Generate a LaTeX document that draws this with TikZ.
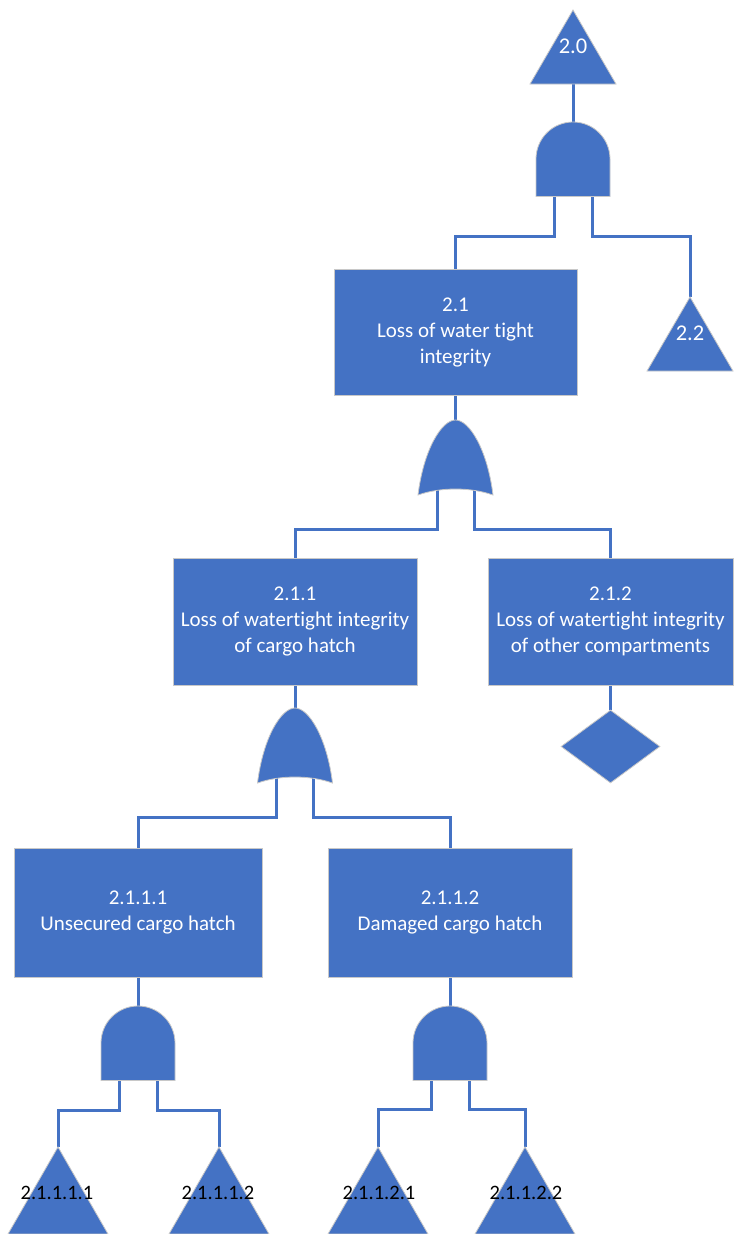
\documentclass[tikz,border=0pt]{standalone}
\usepackage{fontspec}
\setmainfont{Carlito}[Ligatures={NoCommon}]
\usetikzlibrary{shapes.geometric}
\definecolor{ftblue}{HTML}{4472C4}
\definecolor{ftedge}{HTML}{C8C8C8}
\pgfdeclarelayer{background}
\pgfsetlayers{background,main}

\begin{document}
\begin{tikzpicture}[x=1pt,y=-1pt,
  shapefill/.style={fill=ftblue, draw=ftedge, line width=0.8pt},
  box/.style={shapefill, rectangle, align=center, text=white, inner sep=0pt,
    font=\fontsize{21}{26}\selectfont},
  wire/.style={draw=ftblue, line width=3pt},
  tlabel/.style={text=white, inner sep=0pt, font=\fontsize{22.5}{26}\selectfont},
  blabel/.style={text=black, inner sep=0pt, font=\fontsize{20.5}{24}\selectfont},
  andgate/.pic={
    \path[shapefill] (-37,74.5) -- (-37,37) arc[start angle=180, end angle=0, radius=37pt]
      -- (37,74.5) -- cycle;
    \coordinate (-top) at (0,0);
    \coordinate (-l) at (-19,73);
    \coordinate (-r) at (19,73);
  },
  orgate/.pic={
    \path[shapefill] (-37.5,75) .. controls (-32,30) and (-14,0) .. (0,0)
      .. controls (14,0) and (32,30) .. (37.5,75)
      .. controls (15,67) and (-15,67) .. cycle;
    \coordinate (-top) at (0,0);
    \coordinate (-l) at (-18.5,69);
    \coordinate (-r) at (18.5,69);
  }]
\useasboundingbox (0,0) rectangle (734,1234);

% transfer triangles at the top
\path[shapefill] (573,10) -- (616,84) -- (530,84) -- cycle;
\coordinate (t20b) at (573,84);
\node[tlabel] (t20) at (573,46) {2.0};

\path[shapefill] (690,297) -- (733,371) -- (647,371) -- cycle;
\coordinate (t22a) at (690,297);
\node[tlabel] (t22) at (690,333) {2.2};

% gates
\pic (g1) at (573,122) {andgate};
\pic (g2) at (455.5,420) {orgate};
\pic (g3) at (295,708) {orgate};
\pic (g4) at (138,1006) {andgate};
\pic (g5) at (450,1006) {andgate};

% events
\node[box, minimum width=243pt, minimum height=126pt] (b21) at (455.5,332.5)
  {2.1\\Loss of water tight\\integrity};
\node[box, minimum width=244pt, minimum height=127pt] (b211) at (295,621.5)
  {2.1.1\\Loss of watertight integrity\\of cargo hatch};
\node[box, minimum width=245pt, minimum height=127pt] (b212) at (610.5,621.5)
  {2.1.2\\Loss of watertight integrity\\of other compartments};
\node[box, minimum width=248pt, minimum height=129pt] (b2111) at (138,912.5)
  {2.1.1.1\\Unsecured cargo hatch};
\node[box, minimum width=244pt, minimum height=129pt] (b2112) at (450,912.5)
  {2.1.1.2\\Damaged cargo hatch};

% undeveloped event
\node[shapefill, diamond, minimum width=99pt, minimum height=73pt, inner sep=0pt]
  (d212) at (610.5,746.5) {};

% basic-event triangles along the bottom edge
\path[shapefill] (58,1147) -- (108,1234) -- (8,1234) -- cycle;
\coordinate (a1) at (58,1147);
\node[blabel] (l1) at (57,1193) {2.1.1.1.1};
\path[shapefill] (219,1147) -- (269,1234) -- (169,1234) -- cycle;
\coordinate (a2) at (219,1147);
\node[blabel] (l2) at (218,1193) {2.1.1.1.2};
\path[shapefill] (378,1147) -- (428,1234) -- (328,1234) -- cycle;
\coordinate (a3) at (378,1147);
\node[blabel] (l3) at (379,1193) {2.1.1.2.1};
\path[shapefill] (525,1147) -- (575,1234) -- (475,1234) -- cycle;
\coordinate (a4) at (525,1147);
\node[blabel] (l4) at (526,1193) {2.1.1.2.2};

% connectors
\begin{pgfonlayer}{background}
  \draw[wire] (t20b) -- (g1-top);
  \draw[wire] (g1-l) -- ++(0,41) -| (b21.north);
  \draw[wire] (g1-r) -- ++(0,41) -| (t22a);
  \draw[wire] (b21.south) -- (g2-top);
  \draw[wire] (g2-l) -- ++(0,40) -| (b211.north);
  \draw[wire] (g2-r) -- ++(0,40) -| (b212.north);
  \draw[wire] (b211.south) -- (g3-top);
  \draw[wire] (g3-l) -- ++(0,40) -| (b2111.north);
  \draw[wire] (g3-r) -- ++(0,40) -| (b2112.north);
  \draw[wire] (b212.south) -- (d212.north);
  \draw[wire] (b2111.south) -- (g4-top);
  \draw[wire] (g4-l) -- ++(0,31) -| (a1);
  \draw[wire] (g4-r) -- ++(0,31) -| (a2);
  \draw[wire] (b2112.south) -- (g5-top);
  \draw[wire] (g5-l) -- ++(0,30) -| (a3);
  \draw[wire] (g5-r) -- ++(0,30) -| (a4);
\end{pgfonlayer}
\end{tikzpicture}
\end{document}
